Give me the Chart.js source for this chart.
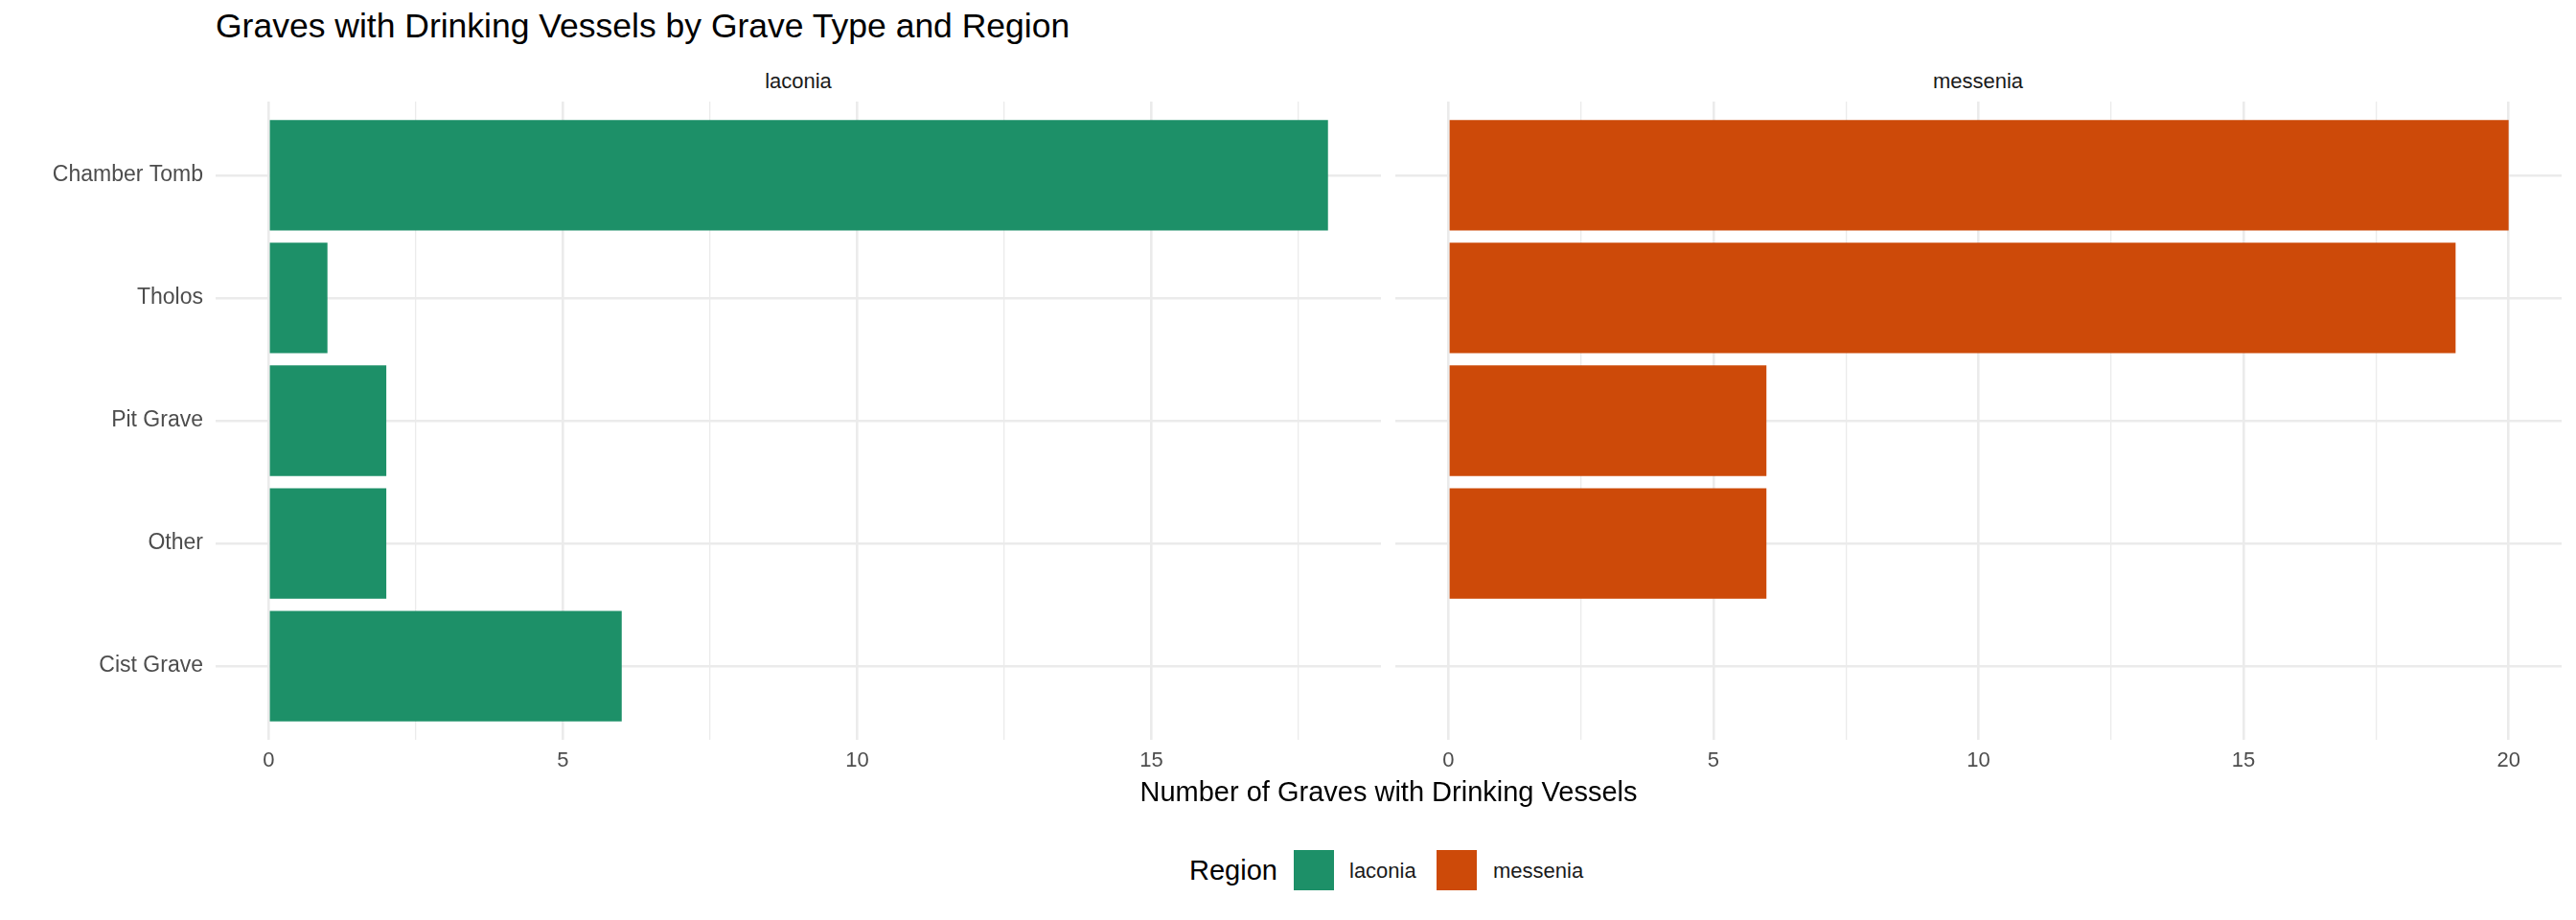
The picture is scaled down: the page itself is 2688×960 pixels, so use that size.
<!DOCTYPE html>
<html>
<head>
<meta charset="utf-8">
<script src="https://cdn.jsdelivr.net/npm/chart.js@4/dist/chart.umd.min.js"></script>
<style>
  body { margin: 0; background: #fff; font-family: "Liberation Sans", Arial, sans-serif; }
  #page { position: relative; width: 2688px; height: 960px; overflow: hidden; }
  .txt { position: absolute; line-height: 1; white-space: nowrap; }
  .box { position: absolute; }
  .key { position: absolute; width: 42px; height: 42px; }
</style>
</head>
<body>
<div id="page">
  <div class="txt" style="left:225px; top:10px; font-size:35.5px; color:#000;">Graves with Drinking Vessels by Grave Type and Region</div>
  <div class="txt" style="left:833px; top:74px; font-size:22px; color:#1A1A1A; transform:translateX(-50%);">laconia</div>
  <div class="txt" style="left:2064px; top:74px; font-size:22px; color:#1A1A1A; transform:translateX(-50%);">messenia</div>

  <div class="box" style="left:0; top:96px; width:1441px; height:716px;"><canvas id="laconia" width="1441" height="716"></canvas></div>
  <div class="box" style="left:1441px; top:96px; width:1247px; height:716px;"><canvas id="messenia" width="1247" height="716"></canvas></div>

  <div class="txt" style="left:1449px; top:812px; font-size:29px; color:#000; transform:translateX(-50%);">Number of Graves with Drinking Vessels</div>

  <div class="txt" style="left:1241px; top:894px; font-size:29px; color:#000;">Region</div>
  <div class="key" style="left:1350px; top:887px; background:#1D9068;"></div>
  <div class="txt" style="left:1408px; top:898px; font-size:22px; color:#1A1A1A;">laconia</div>
  <div class="key" style="left:1499px; top:887px; background:#CD4A09;"></div>
  <div class="txt" style="left:1558px; top:898px; font-size:22px; color:#1A1A1A;">messenia</div>
</div>

<script>
// grave types, top to bottom
const graveTypes = ['Chamber Tomb', 'Tholos', 'Pit Grave', 'Other', 'Cist Grave'];

// counts per region (null = no bar)
const laconiaCounts = [18, 1, 2, 2, 6];
const messeniaCounts = [20, 19, 6, 6, null];

// x grid positions (labels only on multiples of 5)
const laconiaTicks = [0, 2.5, 5, 7.5, 10, 12.5, 15, 17.5];
const messeniaTicks = [0, 2.5, 5, 7.5, 10, 12.5, 15, 17.5, 20];

const regionColors = { laconia: '#1D9068', messenia: '#CD4A09' };
const gridColor = '#EBEBEB';

Chart.defaults.font.family = '"Liberation Sans", Arial, sans-serif';
Chart.defaults.font.size = 22;

function makePanel(canvasId, counts, ticks, xMin, xMax, color, showLabels) {
    const ctx = document.getElementById(canvasId).getContext('2d');
    return new Chart(ctx, {
        type: 'bar',
        data: {
            datasets: [{
                label: canvasId,
                data: graveTypes.map((g, i) => ({ x: counts[i], y: i })),
                backgroundColor: color,
                borderWidth: 0,
                barPercentage: 0.9,
                categoryPercentage: 1.0
            }]
        },
        options: {
            indexAxis: 'y',
            responsive: false,
            animation: false,
            devicePixelRatio: 1,
            layout: { padding: { top: 10, right: showLabels ? 0 : 15, left: 0, bottom: 0 } },
            plugins: {
                legend: { display: false },
                tooltip: { enabled: false }
            },
            scales: {
                x: {
                    type: 'linear',
                    min: xMin,
                    max: xMax,
                    offset: false,
                    afterBuildTicks: scale => { scale.ticks = ticks.map(v => ({ value: v })); },
                    afterFit: scale => { scale.height = 40; },
                    border: { display: false },
                    grid: {
                        color: gridColor,
                        offset: false,
                        drawTicks: false,
                        lineWidth: c => (c.tick && c.tick.value % 5 === 0) ? 2.6 : 1.3
                    },
                    ticks: {
                        padding: 9,
                        color: '#4D4D4D',
                        font: { size: 22 },
                        maxRotation: 0,
                        autoSkip: false,
                        callback: v => (v % 5 === 0 ? String(v) : '')
                    }
                },
                y: {
                    type: 'linear',
                    reverse: true,
                    min: -0.6,
                    max: 4.6,
                    offset: false,
                    afterBuildTicks: scale => { scale.ticks = graveTypes.map((g, i) => ({ value: i })); },
                    afterFit: scale => {
                        scale.width = showLabels ? 225 : 15;
                        scale.paddingTop = 0;
                        scale.paddingBottom = 0;
                    },
                    border: { display: false },
                    grid: { color: gridColor, offset: false, drawTicks: false, lineWidth: 2.6 },
                    ticks: {
                        display: showLabels,
                        padding: 13,
                        color: '#4D4D4D',
                        font: { size: 23 },
                        autoSkip: false,
                        callback: v => graveTypes[v]
                    }
                }
            }
        }
    });
}

makePanel('laconia', laconiaCounts, laconiaTicks, -0.9, 18.9, regionColors.laconia, true);
makePanel('messenia', messeniaCounts, messeniaTicks, -1, 21, regionColors.messenia, false);
</script>
</body>
</html>
